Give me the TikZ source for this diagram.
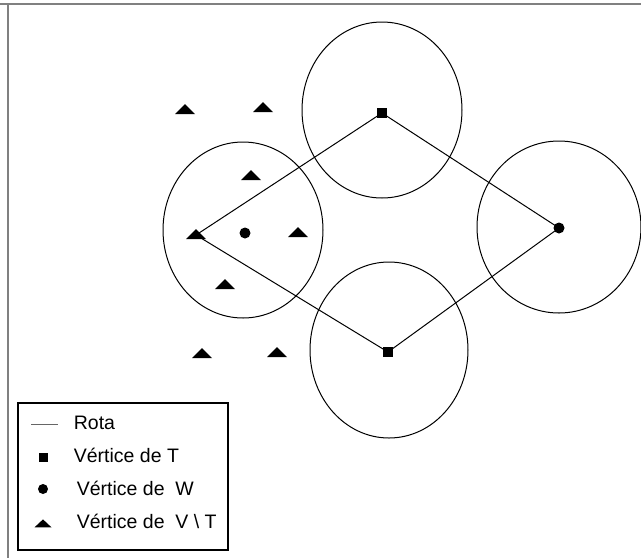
\documentclass[tikz,border=0pt]{standalone}
\usepackage{fontspec}
\setmainfont{Liberation Sans}
\usetikzlibrary{shapes.geometric}

\begin{document}
\begin{tikzpicture}[x=1pt, y=-1pt, line width=1pt]
\tikzset{every node/.style={font=\fontsize{19.5}{23}\selectfont},
    tvert/.style={rectangle, fill=black, inner sep=0pt, minimum size=10pt},
    wvert/.style={circle, fill=black, inner sep=0pt, minimum size=11pt},
    vtvert/.style={isosceles triangle, isosceles triangle apex angle=90,
        shape border rotate=90, isosceles triangle stretches, fill=black,
        inner sep=0pt, minimum width=20pt, minimum height=10pt},
    zone/.style={draw=black, line width=1pt},
    rota/.style={draw=black, line width=1pt}}
    \useasboundingbox (0,0) rectangle (641,558);
    \draw[black!50, line width=2.2pt] (0,4) -- (641,4);
    \draw[black!50, line width=1.2pt] (8,4) -- (8,558);

    % zonas
    \draw[zone] (382,110) ellipse [x radius=80, y radius=88];
    \draw[zone] (559,227) ellipse [x radius=82, y radius=86];
    \draw[zone] (389,350) ellipse [x radius=79, y radius=88];
    \draw[zone] (243,230) ellipse [x radius=80, y radius=88];

    % vertices
    \node[tvert] (t1) at (382,113) {};
    \node[tvert] (t2) at (388,352) {};
    \node[wvert] (w1) at (559,228) {};
    \node[wvert] (w2) at (245,233) {};
    \node[vtvert] (v1) at (196,235) {};
    \node[vtvert] (v2) at (185,110) {};
    \node[vtvert] (v3) at (263,108) {};
    \node[vtvert] (v4) at (251,176) {};
    \node[vtvert] (v5) at (298,233) {};
    \node[vtvert] (v6) at (225,285) {};
    \node[vtvert] (v7) at (202,354) {};
    \node[vtvert] (v8) at (277,353) {};

    % rota
    \draw[rota] (v1.center) -- (t1.center) -- (w1.center) -- (t2.center) -- (v1.center);

    % legenda
    \draw[black, line width=1.8pt] (18,403) rectangle (228,550);
    \coordinate (l1a) at (31,424);
    \coordinate (l1b) at (58,424);
    \draw[black!60, line width=1pt] (l1a) -- (l1b);
    \node[anchor=west] (lrota) at (70,423) {Rota};
    \node[tvert, minimum size=9pt] (lt) at (43,457) {};
    \node[anchor=west] (ltext) at (70,455) {Vértice de T};
    \node[wvert, minimum size=10pt] (lw) at (43,489) {};
    \node[anchor=west] (lwtext) at (73,488) {Vértice de~~W};
    \node[vtvert, minimum width=17pt, minimum height=8pt] (lv) at (43,524) {};
    \node[anchor=west] (lvtext) at (73,521) {Vértice de~~V \textbackslash\ T};
\end{tikzpicture}
\end{document}
